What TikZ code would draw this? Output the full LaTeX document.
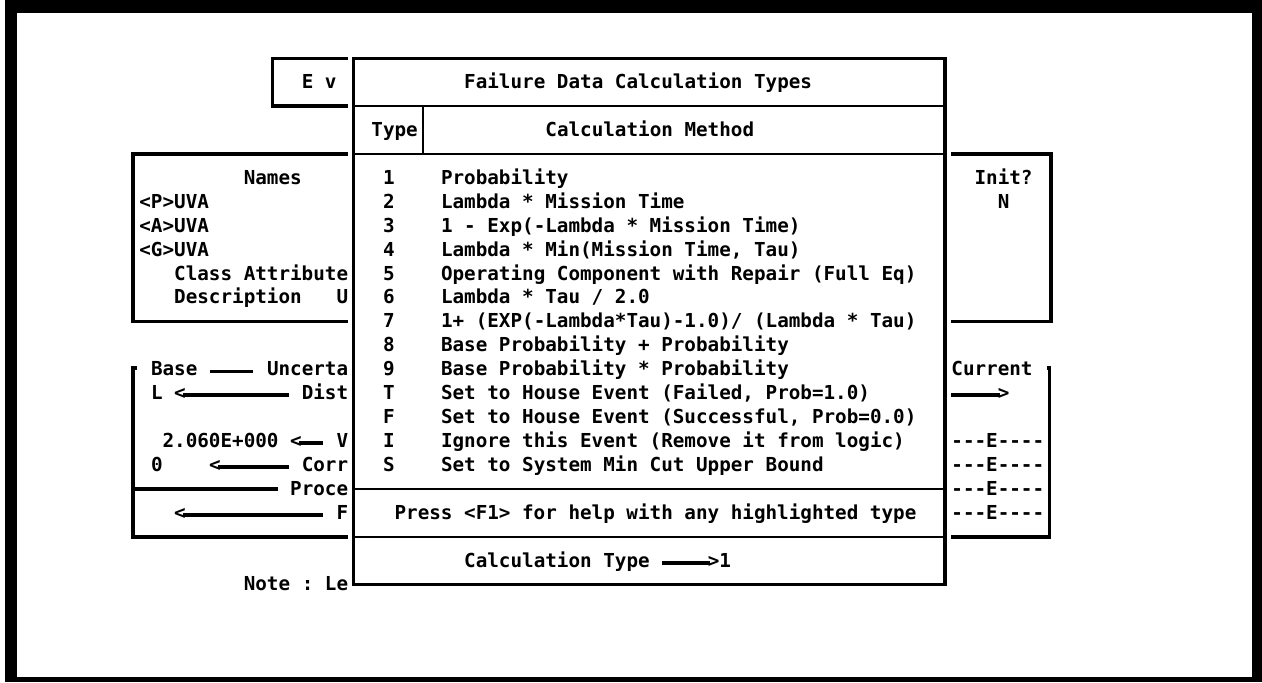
\documentclass[tikz,border=0pt]{standalone}
\usepackage{fontspec}
\setmonofont{DejaVu Sans Mono}
\newcommand\crtfont{\fontsize{9.63}{12}\selectfont\ttfamily\bfseries}

\begin{document}
\begin{tikzpicture}[x=5.8pt,y=-11.96pt,
    txt/.style={anchor=mid west,inner sep=0pt,yshift=-1pt,font=\crtfont},
    heavy/.style={line width=1.8pt,black},
    light/.style={line width=0.9pt,black},
    bar/.style={line width=2pt,black},
    lbar/.style={bar,shorten <=-1.5pt,shorten >=6.4pt}]

    % page and screen frame
    \useasboundingbox (-11.983,-7.4415) rectangle (96.81,21.0702);
    \fill[white] (-11.983,-7.4415) rectangle (96.81,21.0702);
    \fill[black] (-11.552,-7.4415) rectangle (96.81,21.0702);
    \fill[white] (-10.517,-6.898) rectangle (95.948,20.861);

    % panels behind the pop-up
    \draw [heavy] (18,-5) -- (11.5,-5) -- (11.5,-3) -- (18,-3);
    \draw [heavy] (18,-1) -- (-0.5,-1) -- (-0.5,6) -- (18,6);
    \draw [heavy] (70,-1) -- (78.6,-1) -- (78.6,6) -- (70,6);
    \draw [heavy] (-0.2,7.95) -- (-0.5,7.95) -- (-0.5,15) -- (18,15);
    \draw [heavy] (78.3,7.95) -- (78.5,7.95) -- (78.5,15) -- (70,15);

    \node[txt] (ev) at (14,-4) {E v};
    \node[txt] (names) at (9,0) {Names};
    \node[txt] (puva) at (0,1) {<P>UVA};
    \node[txt] (auva) at (0,2) {<A>UVA};
    \node[txt] (guva) at (0,3) {<G>UVA};
    \node[txt] (classattr) at (3,4) {Class Attribute};
    \node[txt] (descr) at (3,5) {Description};
    \node[txt] (descru) at (17,5) {U};

    \node[txt] (base) at (1,8) {Base};
    \node[txt] (uncerta) at (11,8) {Uncerta};
    \draw [line width=1.4pt,shorten <=6pt,shorten >=6.8pt] (base.mid east) -- (uncerta.mid west);
    \node[txt] (ell) at (1,9) {L};
    \node[txt] (ltdist) at (3,9) {<};
    \node[txt] (dist) at (14,9) {Dist};
    \draw [lbar] (ltdist.mid east) -- (dist.mid west);
    \node[txt] (val) at (2,11) {2.060E+000};
    \node[txt] (ltval) at (13,11) {<};
    \node[txt] (vee) at (17,11) {V};
    \draw [lbar] (ltval.mid east) -- (vee.mid west);
    \node[txt] (zero) at (1,12) {0};
    \node[txt] (ltcorr) at (6,12) {<};
    \node[txt] (corr) at (14,12) {Corr};
    \draw [lbar] (ltcorr.mid east) -- (corr.mid west);
    \coordinate (procL) at (-0.5,13);
    \node[txt] (proce) at (13,13) {Proce};
    \draw [heavy,shorten >=5.8pt] (procL) -- (procL -| proce.mid west);
    \node[txt] (ltf) at (3,14) {<};
    \node[txt] (eff) at (17,14) {F};
    \draw [lbar] (ltf.mid east) -- (eff.mid west);
    \node[txt] (note) at (9,17) {Note : Le};

    \node[txt] (init) at (72,0) {Init?};
    \node[txt] (en) at (74,1) {N};
    \node[txt] (current) at (70,8) {Current};
    \coordinate (curL) at (70,9);
    \node[txt] (gtcur) at (74,9) {>};
    \draw [bar,shorten >=-1.5pt] (curL |- gtcur.mid west) -- (gtcur.mid west);
    \foreach \row in {11,...,14} {
        \node[txt] (edash\row) at (70,\row) {---E----};
    }

    % pop-up window
    \draw [heavy] (18.5,-5) rectangle (69.5,17);
    \draw [light] (18.5,-3) -- (69.5,-3);
    \draw [light] (18.5,-1) -- (69.5,-1);
    \draw [light] (24.5,-3) -- (24.5,-1);
    \draw [light] (18.5,13) -- (69.5,13);
    \draw [light] (18.5,15) -- (69.5,15);

    \node[txt] (title) at (28,-4) {Failure Data Calculation Types};
    \node[txt] (typehd) at (20,-2) {Type};
    \node[txt] (methhd) at (35,-2) {Calculation Method};
    \foreach \n/\m [count=\row from 0] in {1/{Probability},
        2/{Lambda * Mission Time},
        3/{1 - Exp(-Lambda * Mission Time)},
        4/{Lambda * Min(Mission Time, Tau)},
        5/{Operating Component with Repair (Full Eq)},
        6/{Lambda * Tau / 2.0},
        7/{1+ (EXP(-Lambda*Tau)-1.0)/ (Lambda * Tau)},
        8/{Base Probability + Probability},
        9/{Base Probability * Probability},
        T/{Set to House Event (Failed, Prob=1.0)},
        F/{Set to House Event (Successful, Prob=0.0)},
        I/{Ignore this Event (Remove it from logic)},
        S/{Set to System Min Cut Upper Bound}} {
        \node[txt] (num\row) at (21,\row) {\n};
        \node[txt] (meth\row) at (26,\row) {\m};
    }
    \node[txt] (press) at (22,14) {Press <F1> for help with any highlighted type};
    \node[txt] (calctype) at (28,16) {Calculation Type};
    \node[txt] (gtone) at (49,16) {>1};
    \draw [bar,shorten <=5.8pt,shorten >=-1.5pt] (calctype.mid east) -- (gtone.mid west);
\end{tikzpicture}
\end{document}
